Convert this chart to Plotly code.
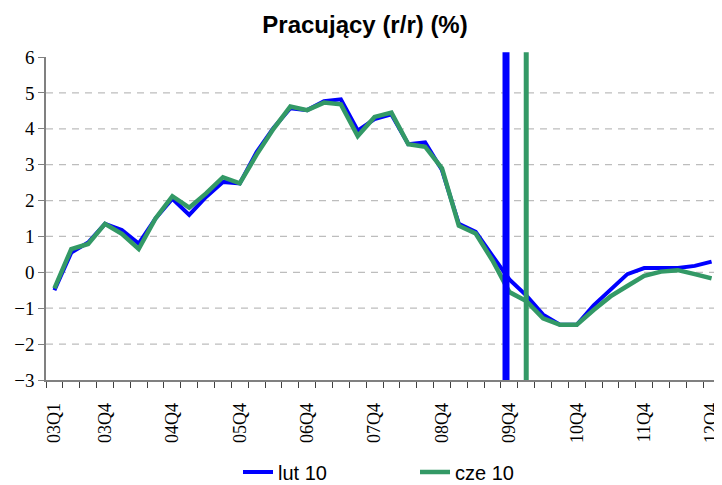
import plotly.graph_objects as go

quarters = [f"{y:02d}Q{q}" for y in range(3, 13) for q in range(1, 5)]
tick_labels = ["03Q1", "03Q4", "04Q4", "05Q4", "06Q4", "07Q4", "08Q4", "09Q4", "10Q4", "11Q4", "12Q4"]

lut10 = [-0.50, 0.55, 0.83, 1.35, 1.18, 0.80, 1.50, 2.05, 1.60, 2.10, 2.52, 2.48,
         3.35, 4.02, 4.57, 4.52, 4.77, 4.82, 3.95, 4.27, 4.40, 3.57, 3.62, 2.85,
         1.35, 1.13, 0.46, -0.20, -0.64, -1.18, -1.46, -1.46, -0.92, -0.48, -0.05, 0.12,
         0.12, 0.12, 0.18, 0.30]
cze10 = [-0.45, 0.65, 0.79, 1.35, 1.07, 0.65, 1.50, 2.12, 1.80, 2.20, 2.65, 2.48,
         3.28, 4.00, 4.62, 4.52, 4.73, 4.68, 3.80, 4.33, 4.45, 3.57, 3.50, 2.90,
         1.30, 1.08, 0.33, -0.55, -0.80, -1.28, -1.46, -1.46, -1.05, -0.67, -0.38, -0.10,
         0.02, 0.06, -0.05, -0.17]

series_names = ["lut 10", "cze 10"]
forecast_start = ["09Q4", "10Q1"]  # vertical marker per forecast vintage
y_ticks = [-3, -2, -1, 0, 1, 2, 3, 4, 5, 6]

BLUE = "#0000FF"
GREEN = "#339966"
SERIF = "Liberation Serif"
SANS = "Liberation Sans"

W, H = 714, 477  # page body adds an 8px offset inside the 722x485 window

x = list(range(len(quarters)))
fig = go.Figure()
fig.add_trace(go.Scatter(x=x, y=lut10, mode="lines", name=series_names[0],
                         line=dict(color=BLUE, width=4)))
fig.add_trace(go.Scatter(x=x, y=cze10, mode="lines", name=series_names[1],
                         line=dict(color=GREEN, width=4.5)))

# dashed gridlines (none at the top/bottom edges)
for v in y_ticks[1:-1]:
    fig.add_shape(type="line", xref="paper", yref="y", x0=0, x1=1, y0=v, y1=v,
                  line=dict(color="#BDBDBD", width=1.3, dash="7px,6px"), layer="below")

# vertical forecast markers
offsets = [-0.2, 0.0]
widths = [7, 5]
for q, off, w, c in zip(forecast_start, offsets, widths, [BLUE, GREEN]):
    xi = quarters.index(q) + off
    fig.add_shape(type="line", xref="x", yref="paper", x0=xi, x1=xi, y0=0, y1=1.015,
                  line=dict(color=c, width=w), layer="above")

tickvals = [quarters.index(t) for t in tick_labels]

fig.update_layout(
    width=W, height=H,
    font=dict(family=SERIF),
    margin=dict(l=38, r=2, t=49, b=105, autoexpand=False),
    paper_bgcolor="white", plot_bgcolor="white",
    title=dict(text="<b>Pracujący (r/r) (%)</b>", x=357 / W, xref="container",
               y=1 - 17 / H, yref="container", yanchor="middle", xanchor="center",
               font=dict(family=SANS, size=24, color="black")),
    showlegend=True,
    legend=dict(orientation="h", xref="container", yref="container",
                x=230 / W, xanchor="left", y=13 / H, yanchor="middle",
                font=dict(family=SANS, size=20, color="black"),
                entrywidth=132, bgcolor="rgba(0,0,0,0)"),
    xaxis=dict(range=[-0.5, len(quarters) - 0.5], tickmode="array", tickvals=tickvals,
               ticktext=tick_labels, tickangle=-90, ticks="", showgrid=False,
               zeroline=False, showline=True, linecolor="#808080", linewidth=1.5,
               ticklabelstandoff=14,
               tickfont=dict(family=SERIF, size=18, color="black"),
               minor=dict(tickmode="linear", tick0=-0.5, dtick=1, ticks="outside",
                          ticklen=6, tickcolor="#404040", tickwidth=1, showgrid=False)),
    yaxis=dict(range=[-3, 6], tickmode="array", tickvals=y_ticks, ticks="outside",
               ticklen=6, tickcolor="#808080", showgrid=False, zeroline=False,
               showline=True, linecolor="#808080", linewidth=1.5,
               tickfont=dict(family=SERIF, size=19, color="black")),
)

fig.write_html("out.html")
